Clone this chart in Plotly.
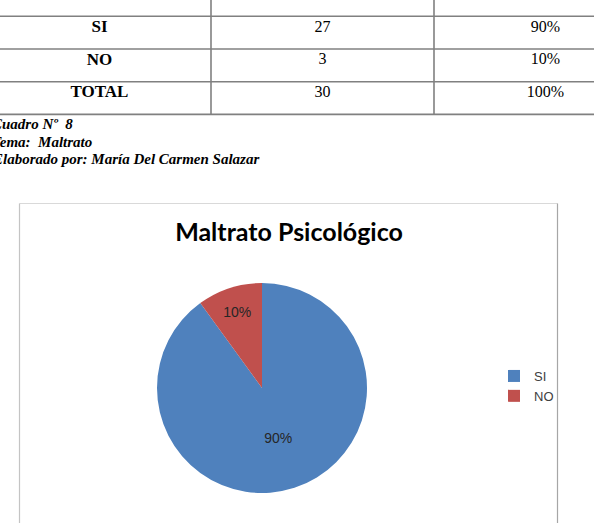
import plotly.graph_objects as go

# ---- data ----
table_labels = ["SI", "NO", "TOTAL"]
table_counts = ["27", "3", "30"]
table_pcts = ["90%", "10%", "100%"]

pie_labels = ["SI", "NO"]
pie_values = [27, 3]
pie_colors = ["#4F81BD", "#C0504D"]

caption_lines = ["Cuadro Nº  8", "Tema:  Maltrato", "Elaborado por: María Del Carmen Salazar"]
chart_title = "Maltrato Psicológico"

W, H = 594, 523
row_px = 32.7
col_px = 223.0

fig = go.Figure()

# ---- table drawn on a hidden cartesian subplot ----
rows = [i + 1 for i in range(len(table_labels))]  # row 0 is the (cut) header
text_y = [r - 0.15 for r in rows]
fig.add_trace(go.Scatter(
    x=[0] * len(rows), y=text_y, mode="text", text=table_labels,
    textfont=dict(family="Liberation Serif", size=17, color="#000000", weight="bold"),
    hoverinfo="skip", showlegend=False))
fig.add_trace(go.Scatter(
    x=[1] * len(rows), y=text_y, mode="text", text=table_counts,
    textfont=dict(family="Liberation Serif", size=16, color="#000000"),
    hoverinfo="skip", showlegend=False))
fig.add_trace(go.Scatter(
    x=[2] * len(rows), y=text_y, mode="text", text=table_pcts,
    textfont=dict(family="Liberation Serif", size=16, color="#000000"),
    hoverinfo="skip", showlegend=False))

line_style = dict(color="#808080", width=1.6)
n_rows = len(rows) + 1
for i in range(n_rows):
    fig.add_shape(type="line", xref="x", yref="y", x0=-1, x1=3,
                  y0=i + 0.5, y1=i + 0.5, line=line_style)
for j in range(2):
    fig.add_shape(type="line", xref="x", yref="y", x0=j + 0.5, x1=j + 0.5,
                  y0=-1, y1=n_rows - 0.5, line=line_style)

table_h = 122
x0 = 0.5 - 211 / col_px
y0 = 0.5 - 16.3 / row_px
fig.update_xaxes(range=[x0, x0 + W / col_px], domain=[0, 1], visible=False, fixedrange=True)
fig.update_yaxes(range=[y0 + table_h / row_px, y0],
                 domain=[1 - table_h / H, 1], visible=False, fixedrange=True)

# ---- captions ----
for k, line in enumerate(caption_lines):
    fig.add_annotation(
        text="<b><i>" + line + "</i></b>", xref="paper", yref="paper",
        x=-10 / W, y=1 - (124 + 17.5 * k) / H, xanchor="left", yanchor="middle",
        showarrow=False, font=dict(family="Liberation Serif", size=15, color="#000000"))

# ---- chart frame ----
frame_l, frame_r, frame_t = 19.5 / W, 557.5 / W, 1 - 203.5 / H
fig.add_shape(type="line", xref="paper", yref="paper", x0=frame_l, x1=frame_r,
              y0=frame_t, y1=frame_t, line=dict(color="#d9d9d9", width=1.2))
fig.add_shape(type="line", xref="paper", yref="paper", x0=frame_l, x1=frame_l,
              y0=frame_t, y1=-0.05, line=dict(color="#c4c4c4", width=1.2))
fig.add_shape(type="line", xref="paper", yref="paper", x0=frame_r, x1=frame_r,
              y0=frame_t, y1=-0.05, line=dict(color="#a6a6a6", width=1.2))

# ---- pie ----
fig.add_trace(go.Pie(
    labels=pie_labels, values=pie_values, sort=False, direction="clockwise", rotation=0,
    marker=dict(colors=pie_colors, line=dict(width=0)),
    textinfo="percent", texttemplate="%{percent:.0%}", textposition="inside",
    insidetextorientation="horizontal",
    textfont=dict(family="Liberation Sans", size=14, color="#262626"),
    domain=dict(x=[157 / W, 367 / W], y=[1 - 493 / H, 1 - 283 / H]),
    hoverinfo="label+value+percent", showlegend=True))

fig.update_layout(
    width=W, height=H, margin=dict(l=0, r=0, t=0, b=0),
    paper_bgcolor="white", plot_bgcolor="white",
    title=dict(text="<b>" + chart_title + "</b>", x=289 / W, y=1 - 232 / H,
               xref="paper", yref="paper", xanchor="center", yanchor="middle",
               font=dict(family="Lato", size=25, color="#000000")),
    legend=dict(x=494 / W, y=1 - 361 / H, xanchor="left", yanchor="top",
                font=dict(family="Liberation Sans", size=13, color="#404040"),
                itemwidth=30, bgcolor="rgba(0,0,0,0)"),
)

fig.write_html("out.html")
